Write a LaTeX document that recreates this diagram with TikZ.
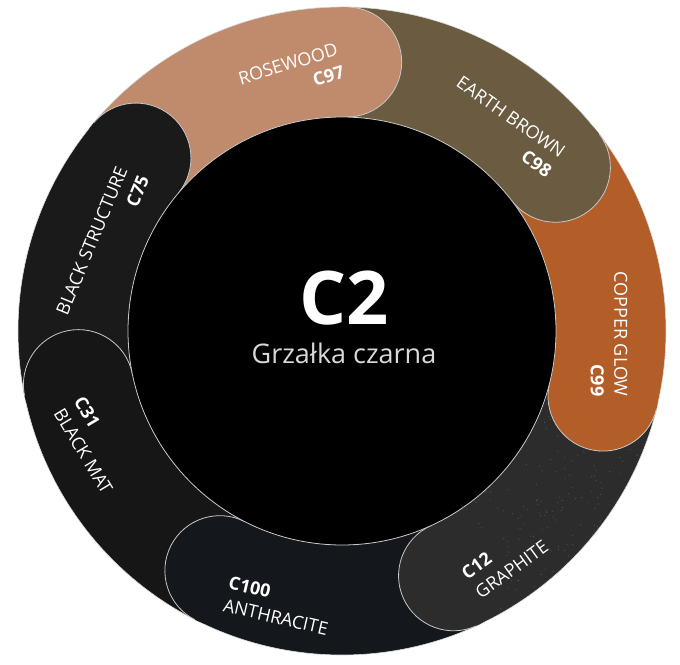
\documentclass[tikz,border=0pt]{standalone}
\usepackage{fontspec}
\setmainfont{Open Sans}
\definecolor{cBS}{HTML}{1A1A1A}
\definecolor{cRW}{HTML}{C08A6D}
\definecolor{cEB}{HTML}{6B5B40}
\definecolor{cCG}{HTML}{B35E29}
\definecolor{cGR}{HTML}{2C2C2C}
\definecolor{cAN}{HTML}{14181C}
\definecolor{cBM}{HTML}{161616}
\definecolor{edgecol}{HTML}{C8C8C8}
\begin{document}
\begin{tikzpicture}[x=1pt,y=1pt,
  capline/.style={draw=edgecol, line width=0.8pt},
  lbl/.style={text=white, inner sep=0pt, font=\fontsize{18}{23.5}\selectfont},
]
\useasboundingbox (0,0) rectangle (680,664);
\coordinate (O) at (342,333);
\def\Ri{214}\def\Ro{324}\def\Rm{269}\def\Rc{55}
% band: start angle, end angle, colour
\newcommand\ringband[3]{%
  \fill[#3, shift={(O)}] (#1:\Ro) arc[start angle=#1, end angle=#2, radius=\Ro]
    -- (#2:\Ri) arc[start angle=#2, end angle=#1, radius=\Ri] -- cycle;}
\newcommand\ringcap[2]{%
  \fill[#2, shift={(O)}] (#1:\Rm) circle[radius=\Rc];
  \draw[capline, shift={(O)}] (#1:\Ro)
    arc[start angle=#1, end angle={#1-180}, radius=\Rc];}
% bands
\ringband{191.5}{140}{cBS}
\ringband{140}{89}{cRW}
\ringband{89}{37.5}{cEB}
\ringband{37.5}{-14}{cCG}
\ringband{-14}{-65.5}{cGR}
\ringband{-65.5}{-117}{cAN}
\ringband{-117}{-168.5}{cBM}
% graphite speckle
\begin{scope}
  \clip[shift={(O)}] (-14:\Ro) arc[start angle=-14, end angle=-65.5, radius=\Ro]
    -- (-65.5:\Ri) arc[start angle=-65.5, end angle=-14, radius=\Ri] -- cycle;
  \pgfmathsetseed{7}
  \foreach \i in {1,...,700}{
    \pgfmathsetmacro\px{400+rnd*270}
    \pgfmathsetmacro\py{rnd*340}
    \fill[white, opacity=0.18] (\px,\py) circle[radius=0.6];
  }
\end{scope}
% outer edge
\draw[edgecol!70, line width=0.6pt] (O) circle[radius=\Ro];
% caps
\ringcap{140}{cBS}
\ringcap{89}{cRW}
\ringcap{37.5}{cEB}
\ringcap{-14}{cCG}
\ringcap{-65.5}{cGR}
\ringcap{-117}{cAN}
\ringcap{-168.5}{cBM}
% inner disc
\filldraw[fill=black, capline] (O) circle[radius=\Ri];
% centre text
\node[text=white, inner sep=0pt, font=\bfseries\fontsize{74}{74}\selectfont] (title) at (344,366) {C2};
\node[text=white!85!black, inner sep=0pt, font=\fontsize{27}{27}\selectfont] (sub) at (344,311) {Grzałka czarna};
% labels
\node[lbl, align=right, rotate=17] (rw) at (291.4,588.8) {ROSEWOOD\\\textbf{C97}};
\node[lbl, align=right, rotate=-35] (eb) at (504.3,537.4) {EARTH BROWN\\\textbf{C98}};
\node[lbl, align=right, rotate=-90] (cg) at (609,330) {COPPER GLOW\\\textbf{C99}};
\node[lbl, align=left, rotate=36] (gr) at (504.8,104) {\textbf{C12}\\GRAPHITE};
\node[lbl, align=left, rotate=-13] (an) at (278.4,58.4) {\textbf{C100}\\ANTHRACITE};
\node[lbl, align=left, rotate=-59] (bm) at (93.4,218.8) {\textbf{C31}\\BLACK MAT};
\node[lbl, align=right, rotate=67.6] (bs) at (102.6,418.7) {BLACK STRUCTURE\\\textbf{C75}};
\end{tikzpicture}
\end{document}
